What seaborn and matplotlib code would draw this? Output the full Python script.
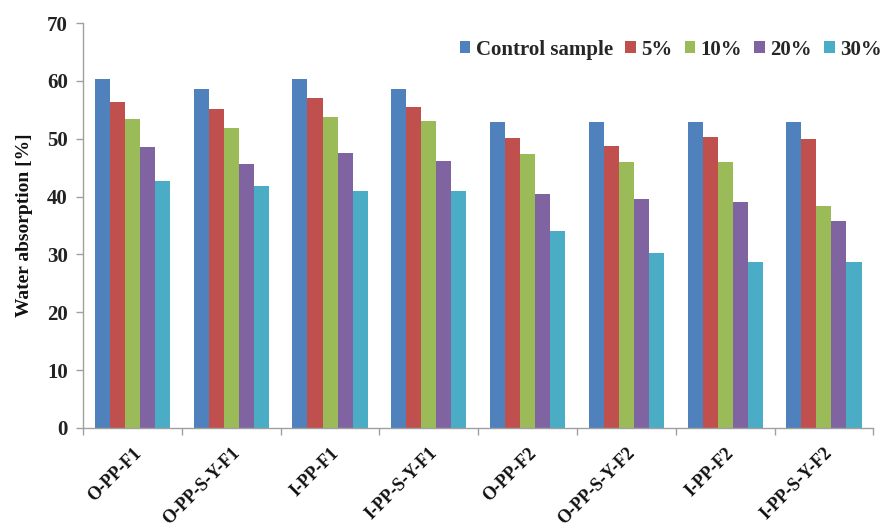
import pandas as pd
import matplotlib
matplotlib.use("Agg")
import matplotlib.pyplot as plt
from matplotlib.ticker import FixedLocator
import seaborn as sns

# ค่าที่อ่านจากกราฟต้นฉบับ
samples = ["O-PP-F1", "O-PP-S-Y-F1", "I-PP-F1", "I-PP-S-Y-F1",
           "O-PP-F2", "O-PP-S-Y-F2", "I-PP-F2", "I-PP-S-Y-F2"]
series = ["Control sample", "5%", "10%", "20%", "30%"]

control = [60.4, 58.6, 60.4, 58.6, 52.9, 52.9, 52.9, 52.9]
pct5 = [56.4, 55.2, 57.0, 55.5, 50.2, 48.8, 50.3, 50.0]
pct10 = [53.4, 51.9, 53.7, 53.1, 47.3, 45.9, 45.9, 38.3]
pct20 = [48.5, 45.6, 47.5, 46.2, 40.5, 39.6, 39.0, 35.7]
pct30 = [42.7, 41.8, 41.0, 41.0, 34.0, 30.3, 28.7, 28.7]

colors = ["#4F81BD", "#C0504D", "#9BBB59", "#8064A2", "#4BACC6"]


def main():
    rows = []
    for name, vals in zip(series, [control, pct5, pct10, pct20, pct30]):
        for s, v in zip(samples, vals):
            rows.append({"sample": s, "series": name, "value": v})
    df = pd.DataFrame(rows)

    sns.set_theme(style="white")
    plt.rcParams['font.family'] = ['Liberation Serif', 'DejaVu Serif']
    plt.rcParams['font.weight'] = 'bold'

    fig = plt.figure(figsize=(8.9, 5.3), dpi=100)
    ax = fig.add_axes([0.0933, 0.1925, 0.888, 0.764])

    sns.barplot(data=df, x="sample", y="value", hue="series", order=samples,
                hue_order=series, palette=colors, width=0.76, gap=0,
                saturation=1, linewidth=0, ax=ax)

    ax.set_xlim(-0.5, len(samples) - 0.5)
    ax.set_ylim(0, 70)
    ax.set_yticks(range(0, 71, 10))
    ax.set_yticklabels([str(v) for v in range(0, 71, 10)],
                       fontsize=15, fontweight='bold', color='#222222')
    ax.set_xticks(range(len(samples)))
    ax.set_xticklabels(samples, rotation=45, ha='right', rotation_mode='anchor',
                       fontsize=13, fontweight='bold', color='#111111')
    ax.tick_params(axis='x', which='major', length=0, pad=12)
    ax.xaxis.set_minor_locator(FixedLocator([i - 0.5 for i in range(len(samples) + 1)]))
    ax.tick_params(axis='x', which='minor', length=5, color='#A0A0A0', width=1,
                   direction='out', bottom=True)
    ax.tick_params(axis='y', length=5, color='#A0A0A0', width=1,
                   direction='out', left=True, pad=6)

    ax.set_xlabel("")
    ax.set_ylabel("Water absorption [%]", fontsize=14, fontweight='bold',
                  labelpad=10, color='#111111')

    for side in ['top', 'right']:
        ax.spines[side].set_visible(False)
    for side in ['left', 'bottom']:
        ax.spines[side].set_color('#A0A0A0')
        ax.spines[side].set_linewidth(1)

    ax.legend(loc='upper right', bbox_to_anchor=(1.034, 1.005), ncol=5,
              frameon=False, handlelength=0.5, handleheight=0.5,
              handletextpad=0.25, columnspacing=0.6,
              prop={'family': 'Liberation Serif', 'weight': 'bold', 'size': 15})

    plt.savefig('out.png', dpi=100)


if __name__ == "__main__":
    main()
